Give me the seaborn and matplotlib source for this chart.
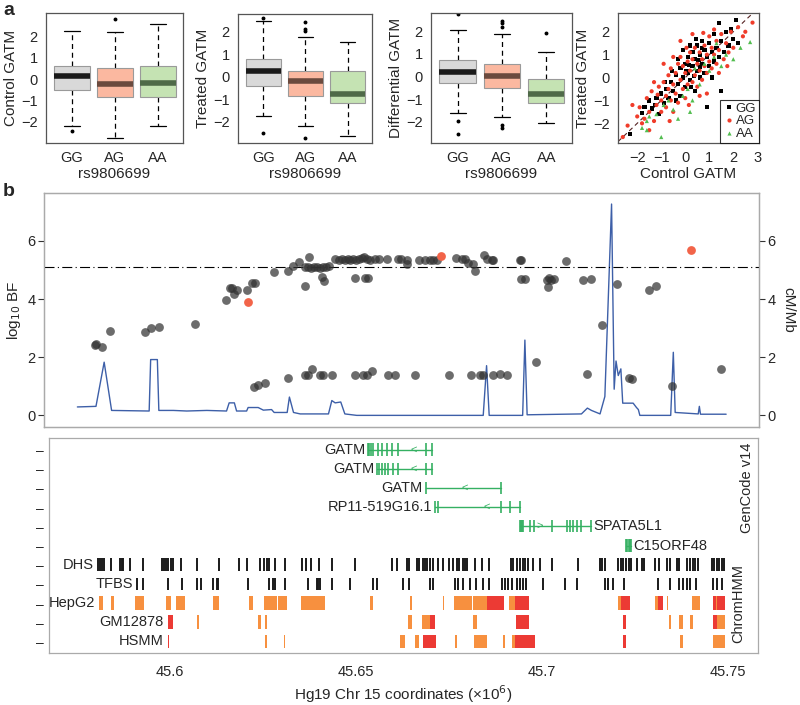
import numpy as np
import pandas as pd
import seaborn as sns
import matplotlib.pyplot as plt

sns.set_style('white')
plt.rcParams['font.family'] = ['Liberation Sans', 'DejaVu Sans']
plt.rcParams['font.size'] = 10

# ---- panel a: box summaries ----
genotypes = ['GG', 'AG', 'AA']
control_q1 = [-0.52, -0.86, -0.86]
control_med = [0.14, -0.25, -0.17]
control_q3 = [0.62, 0.50, 0.61]
control_lo = [-2.19, -2.75, -2.19]
control_hi = [2.27, 2.22, 2.58]
control_out = [[-2.43], [2.82], []]

treated_q1 = [-0.41, -0.86, -1.18]
treated_med = [0.25, -0.19, -0.78]
treated_q3 = [0.79, 0.27, 0.25]
treated_lo = [-1.73, -2.20, -2.63]
treated_hi = [2.48, 1.78, 1.53]
treated_out = [[2.6, -2.5], [2.44, 2.15, 2.05, -2.74], []]

diff_q1 = [-0.29, -0.51, -1.15]
diff_med = [0.22, 0.03, -0.78]
diff_q3 = [0.74, 0.56, -0.12]
diff_lo = [-1.62, -1.78, -2.07]
diff_hi = [2.07, 1.88, 1.10]
diff_out = [[2.75, -1.95, -2.55], [2.44, 2.37, 2.2, -2.13, -2.28], [1.9]]

# control vs treated scatter (approximate positions)
gg_ctrl = [-2.3, -1.8, -1.7, -1.5, -1.4, -1.2, -1.1, -1.0, -0.9, -0.8, -0.7, -0.6, -0.5, -0.4, -0.4, -0.3,
           -0.2, -0.2, -0.1, 0.0, 0.0, 0.1, 0.1, 0.2, 0.2, 0.3, 0.3, 0.4, 0.4, 0.5, 0.5, 0.6, 0.6, 0.7,
           0.7, 0.8, 0.8, 0.9, 1.0, 1.0, 1.1, 1.2, 1.2, 1.3, 1.4, 1.4, 1.5, 1.5, 1.6, 1.7, 1.8, 2.0, 2.1,
           2.2, 0.9, -0.1, 0.15, 0.35, 0.55, -0.55, -0.3, 0.25, 1.1, 0.7, 0.45, 1.9, -0.85, -1.25, 0.05, 0.6]
gg_treat = [-2.45, -1.55, -1.3, -1.0, -1.35, -0.9, -1.6, -0.7, -1.1, -0.5, -0.9, -0.2, -0.6, 0.1, -1.0, -0.3,
            0.4, -0.8, 0.0, 0.6, -0.4, 0.9, 0.2, 1.4, -0.1, 0.5, 1.1, -0.6, 0.8, 0.3, 1.4, 0.0, 1.0, 0.6,
            1.6, 0.2, 1.2, 0.9, 0.5, 1.5, 1.1, 0.7, 1.9, 1.3, 0.9, 2.4, 1.6, -0.6, 1.1, 2.0, 1.4, 1.7, 2.5,
            1.5, -1.3, 1.2, 0.55, 0.05, 0.75, 0.3, 0.8, -0.4, 0.0, 1.3, 1.7, 2.1, -0.2, -1.2, 0.3, 0.45]
ag_ctrl = [-2.4, -2.0, -1.9, -1.7, -1.6, -1.5, -1.4, -1.3, -1.2, -1.1, -1.0, -1.0, -0.9, -0.8, -0.8, -0.7,
           -0.7, -0.6, -0.6, -0.5, -0.5, -0.4, -0.4, -0.3, -0.3, -0.2, -0.2, -0.1, -0.1, 0.0, 0.0, 0.1, 0.1,
           0.2, 0.2, 0.3, 0.3, 0.4, 0.4, 0.5, 0.5, 0.6, 0.6, 0.7, 0.7, 0.8, 0.8, 0.9, 0.9, 1.0, 1.0, 1.1,
           1.1, 1.2, 1.3, 1.3, 1.4, 1.5, 1.6, 1.7, 1.8, 1.9, 2.0, 2.2, 2.4, 2.8, -2.6, -1.8, -1.3, -0.9,
           -0.2, 0.3, 0.9, 1.4, -1.5, -0.5, 0.6, 1.2, -2.2, -1.15, 0.05, 0.75, 1.75, -0.65, 0.15, 2.5]
ag_treat = [-2.1, -1.7, -1.3, -1.8, -0.9, -1.5, -0.6, -1.9, -1.2, -0.4, -1.0, -1.5, -0.2, -0.8, -1.3, 0.1,
            -0.5, -1.0, 0.4, -0.3, -1.5, 0.2, -0.7, 0.6, -1.1, -0.1, 0.9, -0.5, 0.5, -0.9, 0.2, 0.7, -0.3,
            1.1, 0.3, -0.2, 0.8, 1.3, 0.1, 0.6, -0.4, 1.1, 0.3, 0.8, -0.1, 1.4, 0.5, 1.0, 0.2, 1.8, 0.7, 1.3,
            0.4, 1.0, 1.6, 0.6, 1.2, 1.9, 0.8, 1.5, 1.1, 2.0, 1.3, 2.2, 1.8, 2.4, -2.6, -2.0, -0.2, 0.6,
            1.6, 1.9, -0.7, 0.2, -2.3, 0.9, -0.8, 2.1, -1.2, -0.75, 1.3, 1.95, 0.5, -1.9, -1.2, 2.0]
aa_ctrl = [-1.8, -1.6, -1.5, -1.2, -1.0, -0.9, -0.7, -0.5, -0.3, -0.1, 0.1, 0.3, 0.4, 0.6, 0.8, 1.0, 1.2,
           1.5, 1.7, 2.0, 2.3, 2.7, -1.6, 0.2, 1.3]
aa_treat = [-2.2, -1.9, -1.7, -1.6, -2.6, -1.2, -1.0, -1.4, -1.8, -0.8, -0.5, -1.0, 0.4, -0.3, 0.6, 0.3, 0.9,
            0.5, 1.0, 0.8, 1.3, 1.55, -2.3, -1.5, 1.5]

# ---- panel b: association signal (log10 BF) ----
snp_pos = [45.5798, 45.5800, 45.5816, 45.5840, 45.5933, 45.5948, 45.5970, 45.6067, 45.6150, 45.6161,
           45.6168, 45.6173, 45.6179, 45.6206, 45.6221, 45.6228, 45.6280, 45.6317, 45.6330, 45.6348,
           45.6362, 45.6374, 45.6363, 45.6372, 45.6380, 45.6388, 45.6395, 45.6402, 45.6410, 45.6420,
           45.6428, 45.6408, 45.6415, 45.6444, 45.6453, 45.6462, 45.6470, 45.6478, 45.6485, 45.6492,
           45.6500, 45.6508, 45.6515, 45.6522, 45.6530, 45.6538, 45.6550, 45.6562, 45.6582, 45.6497,
           45.6524, 45.6533, 45.6614, 45.6620, 45.6636, 45.6636, 45.6670, 45.6685, 45.6699, 45.6708,
           45.6717, 45.6770, 45.6784, 45.6793, 45.6802, 45.6815, 45.6820, 45.6845, 45.6853, 45.6865,
           45.6869, 45.6941, 45.6943, 45.6943, 45.6954, 45.7013, 45.7017, 45.7019, 45.7032, 45.7025,
           45.7064, 45.7111, 45.7133, 45.7160, 45.7202, 45.7288, 45.7306,
           45.6226, 45.6237, 45.6255, 45.6318, 45.6363, 45.6372, 45.6383, 45.6403, 45.6410, 45.6436,
           45.6497, 45.6519, 45.6530, 45.6542, 45.6587, 45.6605, 45.6659, 45.6751, 45.6809, 45.6833,
           45.6841, 45.6869, 45.6887, 45.6907, 45.6985, 45.7120, 45.7235, 45.7243, 45.7349, 45.7481]
snp_bf = [2.43, 2.45, 2.36, 2.91, 2.87, 3.01, 3.03, 3.14, 3.97, 4.39,
          4.38, 4.16, 4.33, 4.31, 4.56, 4.54, 4.94, 4.97, 5.14, 5.29,
          4.45, 5.44, 5.10, 5.12, 5.08, 5.10, 5.12, 5.08, 5.10, 5.12,
          5.14, 4.75, 4.62, 5.37, 5.36, 5.38, 5.34, 5.37, 5.35, 5.38,
          5.36, 5.39, 5.40, 5.44, 5.38, 5.36, 5.37, 5.38, 5.37, 4.71,
          4.71, 4.71, 5.37, 5.37, 5.35, 5.20, 5.35, 5.35, 5.36, 5.35,
          5.34, 5.40, 5.38, 5.38, 5.23, 5.21, 4.98, 5.52, 5.38, 5.34,
          5.34, 5.34, 5.34, 4.69, 4.69, 4.66, 4.43, 4.71, 4.68, 4.66,
          5.31, 4.66, 4.69, 3.11, 4.52, 4.31, 4.45,
          0.98, 1.06, 1.13, 1.27, 1.40, 1.40, 1.61, 1.38, 1.38, 1.40,
          1.40, 1.40, 1.40, 1.53, 1.40, 1.40, 1.40, 1.40, 1.40, 1.40,
          1.40, 1.40, 1.43, 1.40, 1.84, 1.44, 1.29, 1.26, 1.00, 1.61]
lead_pos = [45.6209, 45.6728, 45.7400]
lead_bf = [3.90, 5.48, 5.70]
bf_threshold = 5.1

# recombination rate (cM/Mb)
recomb_pos = [45.5751, 45.5801, 45.5823, 45.5843, 45.5944, 45.5948, 45.5966, 45.5970, 45.6009, 45.6045,
              45.6099, 45.6152, 45.6159, 45.6173, 45.6179, 45.6206, 45.6210, 45.6237, 45.6251, 45.6273,
              45.6280, 45.6315, 45.6321, 45.6332, 45.6350, 45.6426, 45.6435, 45.6444, 45.6459, 45.6470,
              45.6502, 45.6842, 45.6851, 45.6858, 45.6948, 45.6954, 45.6960, 45.7106, 45.7122, 45.7133,
              45.7156, 45.7169, 45.7187, 45.7194, 45.7199, 45.7205, 45.7212, 45.7217, 45.7245, 45.7254,
              45.7259, 45.7263, 45.7346, 45.7353, 45.7358, 45.7420, 45.7423, 45.7426, 45.7495]
recomb_rate = [0.29, 0.31, 1.83, 0.17, 0.15, 1.92, 1.92, 0.17, 0.17, 0.15,
               0.17, 0.15, 0.43, 0.43, 0.15, 0.15, 0.27, 0.27, 0.18, 0.20,
               0.10, 0.10, 0.63, 0.10, 0.05, 0.05, 0.51, 0.43, 0.46, 0.05,
               0.00, 0.00, 1.71, 0.00, 0.00, 2.59, 0.02, 0.05, 0.25, 0.17,
               0.05, 0.65, 7.27, 0.90, 1.87, 1.37, 1.60, 0.42, 0.42, 0.27,
               0.20, 0.00, 0.00, 2.17, 0.10, 0.05, 0.31, 0.04, 0.04]

# ---- genes (GenCode v14) ----
gene_names = ['GATM', 'GATM', 'GATM', 'RP11-519G16.1', 'SPATA5L1', 'C15ORF48']
gene_rows = [11, 10, 9, 8, 7, 6]
gene_exons = [
    [45.6533, 45.6536, 45.6539, 45.6546, 45.6560, 45.6569, 45.6584, 45.6598, 45.6613, 45.6687, 45.6705],
    [45.6557, 45.6562, 45.6569, 45.6578, 45.6587, 45.6600, 45.6613, 45.6687, 45.6704],
    [45.6687, 45.6889],
    [45.6712, 45.6721, 45.6889, 45.6914, 45.6941],
    [45.6941, 45.6944, 45.6947, 45.6950, 45.6968, 45.6978, 45.7026, 45.7066, 45.7075, 45.7084,
     45.7093, 45.7106, 45.7131],
    [45.7226, 45.7229, 45.7233, 45.7236, 45.7238],
]
gene_arrow = [45.6654, 45.6654, 45.6793, 45.6851, 45.6995, None]
gene_strand = ['-', '-', '-', '-', '+', '+']

# ---- regulatory tracks ----
dhs_pos = [45.58073, 45.58118, 45.58172, 45.58226, 45.58406, 45.58656, 45.58702, 45.58745, 45.58925,
           45.59282, 45.59777, 45.59839, 45.59892, 45.59954, 45.60019, 45.60073, 45.60288, 45.60734,
           45.61317, 45.61855, 45.62062, 45.62419, 45.62527, 45.62599, 45.62669, 45.62823, 45.63091,
           45.63540, 45.63656, 45.63782, 45.64013, 45.64347, 45.64973, 45.65960, 45.66110, 45.66363,
           45.66433, 45.66632, 45.66702, 45.66793, 45.66855, 45.66917, 45.66989, 45.67062, 45.67212,
           45.67331, 45.67508, 45.67616, 45.67707, 45.67777, 45.67868, 45.67930, 45.67976, 45.68199,
           45.68379, 45.68583, 45.69167, 45.69229, 45.69336, 45.69409, 45.69481, 45.69543, 45.69632,
           45.69750, 45.69946, 45.70261, 45.70976, 45.71559, 45.71613, 45.71694, 45.72051, 45.72116,
           45.72185, 45.72258, 45.72331, 45.72401, 45.72562, 45.72680, 45.72750, 45.73038, 45.73153,
           45.73352, 45.73441, 45.73621, 45.73691, 45.73890, 45.73978, 45.74051, 45.74113, 45.74202,
           45.74562, 45.74624, 45.74696, 45.74766, 45.74831, 45.74892]
tfbs_pos = [45.59121, 45.59266, 45.59954, 45.60315, 45.60734, 45.60825, 45.61164, 45.61255, 45.61298,
            45.62105, 45.62669, 45.62777, 45.62823, 45.63091, 45.63718, 45.63944, 45.63987, 45.64032,
            45.64347, 45.64839, 45.65465, 45.65556, 45.66272, 45.66433, 45.66989, 45.67078, 45.67661,
            45.67750, 45.67884, 45.68065, 45.68226, 45.68406, 45.68583, 45.68917, 45.69005, 45.69094,
            45.69185, 45.69320, 45.69409, 45.69497, 45.69570, 45.70019, 45.70618, 45.70933, 45.71694,
            45.71782, 45.71917, 45.72204, 45.73126, 45.73441, 45.73691, 45.73782, 45.73890, 45.73978,
            45.74140, 45.74605, 45.74696, 45.74831]

hepg2_start = [45.58100, 45.58406, 45.59059, 45.59892, 45.60161, 45.61164, 45.62132, 45.62527, 45.62911,
               45.63240, 45.63513, 45.65376, 45.66452, 45.67347, 45.67634, 45.68137, 45.68530, 45.69121,
               45.69274, 45.72051, 45.72120, 45.73038, 45.73126, 45.73352, 45.74024, 45.74589, 45.74677,
               45.74712]
hepg2_end = [45.58191, 45.58495, 45.59301, 45.60019, 45.60403, 45.61325, 45.62239, 45.62868, 45.63137,
             45.63265, 45.64167, 45.65449, 45.66497, 45.67374, 45.68110, 45.68530, 45.68978, 45.69274,
             45.69659, 45.72120, 45.72366, 45.73126, 45.73261, 45.73395, 45.74247, 45.74677, 45.74712,
             45.74919]
hepg2_state = ['o', 'o', 'o', 'o', 'o', 'o', 'o', 'o', 'o', 'o', 'o', 'o', 'o', 'o', 'o', 'o', 'r', 'o',
               'r', 'o', 'r', 'o', 'r', 'o', 'o', 'r', 'o', 'r']
gm12878_start = [45.59938, 45.60734, 45.62374, 45.62562, 45.66406, 45.66766, 45.66989, 45.68153, 45.69301,
                 45.72169, 45.73422, 45.73691, 45.73978, 45.74605, 45.74696]
gm12878_end = [45.60073, 45.60771, 45.62438, 45.62616, 45.66497, 45.66989, 45.67124, 45.68245, 45.69659,
               45.72258, 45.73481, 45.73782, 45.74067, 45.74696, 45.74919]
gm12878_state = ['r', 'o', 'o', 'o', 'o', 'o', 'r', 'o', 'r', 'r', 'o', 'o', 'o', 'r', 'o']
hsmm_start = [45.59938, 45.62562, 45.63065, 45.66183, 45.66586, 45.66793, 45.67661, 45.68172, 45.68960,
              45.69185, 45.69274, 45.72169, 45.73710, 45.74605]
hsmm_end = [45.59981, 45.62600, 45.63100, 45.66317, 45.66702, 45.67151, 45.67707, 45.68530, 45.69005,
            45.69274, 45.69812, 45.72258, 45.73798, 45.74919]
hsmm_state = ['r', 'o', 'o', 'o', 'o', 'r', 'o', 'o', 'o', 'o', 'r', 'r', 'o', 'o']

x_ticks = [45.6, 45.65, 45.7, 45.75]

# ---- styling ----
W, H = 800, 705
fig = plt.figure(figsize=(W / 100, H / 100), dpi=100)


def px_axes(x0, y0, x1, y1):
    return fig.add_axes([x0 / W, 1 - y1 / H, (x1 - x0) / W, (y1 - y0) / H])


box_faces = ['#d9d9d9', '#fbb8a0', '#c5e3b3']
median_cols = ['#1a1a1a', '#6b4a3e', '#4f6a48']
green = '#35b062'
orange = '#f7903f'
red = '#ec3a34'
state_col = {'o': orange, 'r': red}


def draw_box(ax, q1, med, q3, lo, hi, out, ylabel, ylim):
    stats = []
    for i, g in enumerate(genotypes):
        stats.append(dict(label=g, q1=q1[i], med=med[i], q3=q3[i], whislo=lo[i], whishi=hi[i],
                          fliers=out[i]))
    bp = ax.bxp(stats, positions=[1, 2, 3], widths=0.82, capwidths=0.36, patch_artist=True,
                boxprops=dict(edgecolor='#9a9a9a', linewidth=0.8),
                whiskerprops=dict(color='black', linewidth=0.9, linestyle=(0, (4, 3))),
                capprops=dict(color='black', linewidth=0.9),
                medianprops=dict(linewidth=4, solid_capstyle='butt'),
                flierprops=dict(marker='o', markersize=1.8, markerfacecolor='black',
                                markeredgecolor='black'))
    for i, patch in enumerate(bp['boxes']):
        patch.set_facecolor(box_faces[i])
        patch.set_zorder(3)
    for i, m in enumerate(bp['medians']):
        m.set_color(median_cols[i])
        m.set_zorder(4)
    ax.set_xlim(0.4, 3.58)
    ax.set_ylim(*ylim)
    ax.set_yticks([-2, -1, 0, 1, 2])
    ax.set_ylabel(ylabel, fontsize=11, labelpad=2)
    ax.set_xlabel('rs9806699', fontsize=11, labelpad=1)


def frame(ax, col='#555555'):
    for s in ax.spines.values():
        s.set_visible(True)
        s.set_color(col)
        s.set_linewidth(0.9)
    ax.tick_params(direction='out', length=4, width=0.8, color='#333333', labelsize=10.5, pad=2)


ax1 = px_axes(46, 13, 183, 143)
draw_box(ax1, control_q1, control_med, control_q3, control_lo, control_hi, control_out,
         'Control GATM', (-3.0, 3.1))
ax2 = px_axes(238, 14, 372, 143)
draw_box(ax2, treated_q1, treated_med, treated_q3, treated_lo, treated_hi, treated_out,
         'Treated GATM', (-2.95, 2.8))
ax3 = px_axes(431, 13, 572, 143)
draw_box(ax3, diff_q1, diff_med, diff_q3, diff_lo, diff_hi, diff_out,
         'Differential GATM', (-2.93, 2.8))
for ax in (ax1, ax2, ax3):
    frame(ax)

ax4 = px_axes(618, 13, 759, 143)
sc = pd.DataFrame({
    'ctrl': gg_ctrl + ag_ctrl + aa_ctrl,
    'treat': gg_treat + ag_treat + aa_treat,
    'geno': ['GG'] * len(gg_ctrl) + ['AG'] * len(ag_ctrl) + ['AA'] * len(aa_ctrl),
})
ax4.axline((0, 0), slope=1, color='#552222', lw=0.8, ls=(0, (4, 3)), zorder=1)
sns.scatterplot(data=sc, x='ctrl', y='treat', hue='geno', style='geno', ax=ax4,
                hue_order=genotypes, style_order=genotypes,
                palette={'GG': 'black', 'AG': '#f03c2a', 'AA': '#52bd4f'},
                markers={'GG': 's', 'AG': 'o', 'AA': '^'}, s=9, linewidth=0, zorder=2)
ax4.set_xlim(-2.8, 3.07)
ax4.set_ylim(-2.86, 2.82)
ax4.set_xticks([-2, -1, 0, 1, 2, 3])
ax4.set_yticks([-2, -1, 0, 1, 2])
ax4.set_xlabel('Control GATM', fontsize=11, labelpad=1)
ax4.set_ylabel('Treated GATM', fontsize=11, labelpad=2)
frame(ax4)
sns.move_legend(ax4, 'lower right', title=None, frameon=True, fontsize=9.5, markerscale=1.0,
                handletextpad=0.0, borderpad=0.2, labelspacing=0.05, handlelength=1.0,
                borderaxespad=0.0, fancybox=False, edgecolor='black')
ax4.get_legend().get_frame().set_linewidth(0.8)

# ---- panel b top: association ----
axb = px_axes(44, 193, 759, 427)
x0b = 45.6 + (44 - 170) / 3720
x1b = 45.6 + (759 - 170) / 3720
axr = axb.twinx()
sns.lineplot(x=recomb_pos, y=recomb_rate, ax=axr, color='#3d5fa8', lw=1.0, sort=False,
             estimator=None, zorder=1)
sns.scatterplot(x=snp_pos, y=snp_bf, ax=axb, color='#333333', alpha=0.72, s=40, linewidth=0,
                zorder=3)
sns.scatterplot(x=lead_pos, y=lead_bf, ax=axb, color='#f26449', s=40, linewidth=0, zorder=4)
axb.axhline(bf_threshold, color='black', lw=0.8, ls=(0, (9, 3, 1, 3)), zorder=2)
axb.set_zorder(axr.get_zorder() + 1)
axb.patch.set_visible(False)
for a in (axb, axr):
    a.set_xlim(x0b, x1b)
    a.set_ylim(-0.4, 7.65)
    a.set_yticks([0, 2, 4, 6])
    a.set_xticks([])
    for s in a.spines.values():
        s.set_color('#aaaaaa')
        s.set_linewidth(0.9)
    a.tick_params(direction='out', length=4, width=0.8, color='#333333', labelsize=10.5, pad=2)
axb.set_ylabel('log$_{10}$ BF', fontsize=11, labelpad=3)
axr.set_ylabel('cM/Mb', fontsize=11, rotation=270, labelpad=14)

# ---- panel b bottom: genes and tracks ----
axg = px_axes(49, 438, 758, 653)
x0g = 45.6 + (49 - 170) / 3720
x1g = 45.6 + (758 - 170) / 3720
for name, row, ex, arr, strand in zip(gene_names, gene_rows, gene_exons, gene_arrow, gene_strand):
    axg.plot([min(ex), max(ex)], [row, row], color=green, lw=1.0)
    axg.vlines(ex, row - 0.32, row + 0.32, color=green, lw=1.2)
    if arr is not None:
        axg.text(arr, row, '<' if strand == '-' else '>', color=green, fontsize=8,
                 ha='center', va='center')
    if name in ('SPATA5L1', 'C15ORF48'):
        axg.text(max(ex) + 0.0007, row, name, ha='left', va='center', fontsize=10.5)
    else:
        axg.text(min(ex) - 0.0008, row, name, ha='right', va='center', fontsize=10.5)

axg.vlines(dhs_pos, 5 - 0.33, 5 + 0.33, color='#1a1a1a', lw=1.4)
axg.vlines(tfbs_pos, 4 - 0.33, 4 + 0.33, color='#1a1a1a', lw=1.4)
axg.text(dhs_pos[0] - 0.0012, 5, 'DHS', ha='right', va='center', fontsize=10.5)
axg.text(tfbs_pos[0] - 0.0010, 4, 'TFBS', ha='right', va='center', fontsize=10.5)

for row, label, st, en, state in [(3, 'HepG2', hepg2_start, hepg2_end, hepg2_state),
                                  (2, 'GM12878', gm12878_start, gm12878_end, gm12878_state),
                                  (1, 'HSMM', hsmm_start, hsmm_end, hsmm_state)]:
    widths = [max(e - s, 0.00025) for s, e in zip(st, en)]
    axg.barh([row] * len(st), widths, left=st, height=0.72,
             color=[state_col[c] for c in state], linewidth=0)
    axg.text(st[0] - 0.0010, row, label, ha='right', va='center', fontsize=10.5)

axg.text(45.7551, 9.0, 'GenCode v14', rotation=90, ha='center', va='center', fontsize=10.5)
axg.text(45.7527, 3.0, 'ChromHMM', rotation=90, ha='center', va='center', fontsize=10.5)

axg.set_xlim(x0g, x1g)
axg.set_ylim(0.4, 11.6)
axg.set_yticks(range(1, 12))
axg.set_yticklabels(['–'] * 11)
axg.set_xticks(x_ticks)
axg.set_xticklabels(['45.6', '45.65', '45.7', '45.75'])
for s in axg.spines.values():
    s.set_color('#aaaaaa')
    s.set_linewidth(0.9)
axg.tick_params(axis='x', direction='out', length=6, width=0.8, color='#333333', labelsize=10.5, pad=3)
axg.tick_params(axis='y', length=0, labelsize=10, pad=4)
axg.set_xlabel('Hg19 Chr 15 coordinates (×10$^6$)', fontsize=11, labelpad=3)

fig.text(3 / W, 1 - 2 / H, 'a', fontsize=14, fontweight='bold', va='top', ha='left')
fig.text(3 / W, 1 - 183 / H, 'b', fontsize=14, fontweight='bold', va='top', ha='left')

fig.savefig('out.png', dpi=100)
